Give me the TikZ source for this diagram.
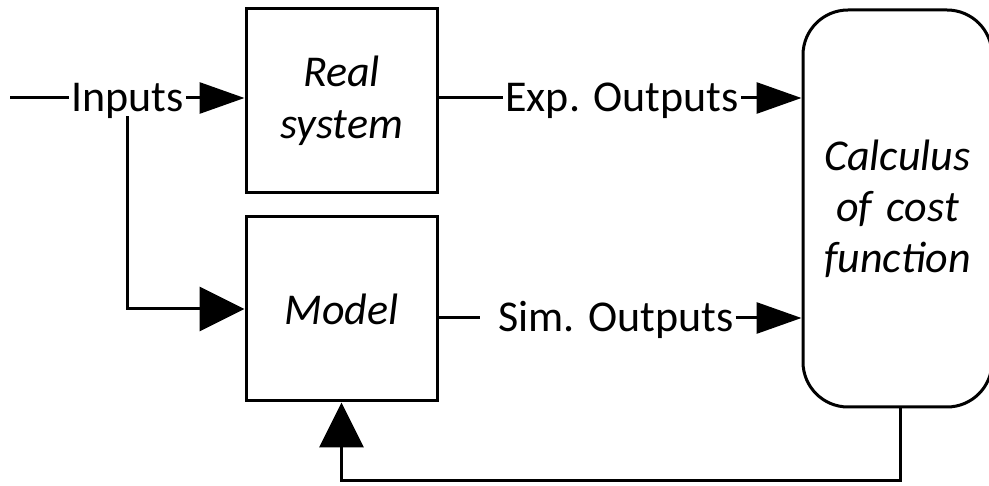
\documentclass[tikz,border=0pt]{standalone}
\usepackage{fontspec}
\setmainfont{Carlito}
\usetikzlibrary{arrows.meta}

\tikzset{
  block/.style={draw, line width=3pt, minimum width=191pt, minimum height=184pt,
    inner sep=0pt, align=center, font=\fontsize{44}{52}\selectfont\itshape},
  lbl/.style={inner sep=2pt, text height=30pt, text depth=2pt,
    font=\fontsize{44}{52}\selectfont},
  conn/.style={line width=3pt},
  tipsmall/.style={-{Triangle[length=45pt,width=31pt]}},
  tipbig/.style={-{Triangle[length=45pt,width=44pt]}}
}

\begin{document}
\begin{tikzpicture}[x=1pt,y=-1pt]
  \useasboundingbox (0,0) rectangle (989,486);

  % blocks
  \node[block] (real) at (341.5,101) {Real\\system};
  \node[block] (model) at (341.5,309) {Model};
  \node[block, minimum width=189pt, minimum height=397pt, rounded corners=45pt,
        text width=170pt, font=\fontsize{44}{51}\selectfont\itshape]
        (calc) at (897.5,208.5) {Calculus\\of cost\\function};

  % signal labels
  \coordinate (in) at (10,98);
  \node[lbl] (inputs) at (127.5,98) {Inputs};
  \node[lbl] (exp) at (622,98) {Exp. Outputs};
  \node[lbl] (sim) at (616,318) {Sim. Outputs};
  \coordinate (fb) at (900,481);

  % inputs
  \draw[conn] (in) -- (inputs.west);
  \draw[conn,tipsmall] (inputs.east) -- (inputs.east -| real.west);
  \draw[conn,tipbig] (inputs.south) |- (model.west);

  % outputs
  \draw[conn] (real.east |- exp.west) -- (exp.west);
  \draw[conn,tipsmall] (exp.east) -- (exp.east -| calc.west);
  \draw[conn, shorten >=16pt] (model.east |- sim.west) -- (sim.west);
  \draw[conn,tipsmall] (sim.east) -- (sim.east -| calc.west);

  % feedback to the model
  \draw[conn,tipbig] (calc.south -| fb) -- (fb) -| (model.south);
\end{tikzpicture}
\end{document}
